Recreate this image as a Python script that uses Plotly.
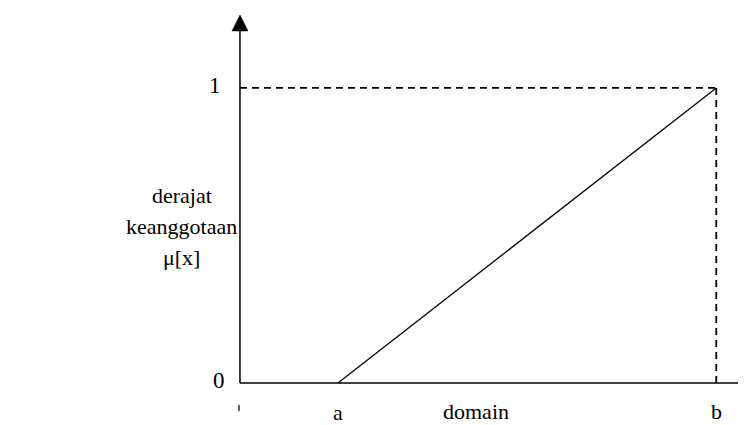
import plotly.graph_objects as go

# ---- data ----
point_names = ["a", "b"]
point_x = [1.0, 4.86]          # positions of a and b on the domain axis
mu_x = [1.0, 4.86]             # membership line: from a ...
mu_y = [0.0, 1.0]              # ... rising linearly to 1 at b
y_tick_vals = [0, 1]
y_tick_text = ["0", "1"]
x_title = "domain"
y_title_lines = ["derajat", "keanggotaan", "μ[x]"]

# axis extents (data units)
X_MIN, X_MAX = -2.367, 5.245
Y_MIN, Y_MAX = -0.1695, 1.271
X_AXIS_END = 5.18
Y_AXIS_END = 1.193
ARROW_LEN_Y = 0.054
ARROW_HALF_Y = 0.0816
ARROW_LEN_X = 0.17
ARROW_HALF_X = 0.0237

FONT = "Liberation Serif, Times New Roman, serif"
FS = 22
BLACK = "#000000"

fig = go.Figure()

# membership function line
fig.add_trace(go.Scatter(x=mu_x, y=mu_y, mode="lines",
                         line=dict(color=BLACK, width=1.3),
                         hoverinfo="skip", showlegend=False))

# arrow heads (filled triangles)
fig.add_trace(go.Scatter(
    x=[-ARROW_HALF_Y, ARROW_HALF_Y, 0, -ARROW_HALF_Y],
    y=[Y_AXIS_END, Y_AXIS_END, Y_AXIS_END + ARROW_LEN_Y, Y_AXIS_END],
    mode="lines", fill="toself", fillcolor=BLACK,
    line=dict(color=BLACK, width=0.5), hoverinfo="skip", showlegend=False))
fig.add_trace(go.Scatter(
    x=[X_AXIS_END, X_AXIS_END, X_AXIS_END + ARROW_LEN_X, X_AXIS_END],
    y=[-ARROW_HALF_X, ARROW_HALF_X, 0, -ARROW_HALF_X],
    mode="lines", fill="toself", fillcolor=BLACK,
    line=dict(color=BLACK, width=0.5), hoverinfo="skip", showlegend=False))

shapes = [
    # y axis
    dict(type="line", x0=0, x1=0, y0=0, y1=Y_AXIS_END,
         line=dict(color=BLACK, width=1.5)),
    # x axis
    dict(type="line", x0=0, x1=X_AXIS_END, y0=0, y1=0,
         line=dict(color=BLACK, width=1.5)),
    # dashed guide lines at mu = 1 and x = b
    dict(type="line", x0=0, x1=point_x[1], y0=mu_y[1], y1=mu_y[1],
         line=dict(color=BLACK, width=1.8, dash="7px,5px")),
    dict(type="line", x0=point_x[1], x1=point_x[1], y0=0, y1=mu_y[1],
         line=dict(color=BLACK, width=1.8, dash="7px,5px")),
    # small remnant tick below the origin
    dict(type="line", x0=-0.01, x1=-0.01, y0=-0.075, y1=-0.095,
         line=dict(color=BLACK, width=1.2)),
]

annotations = []
# y tick labels
tick_x = [-0.214, -0.255]
for tv, tt, tx in zip(y_tick_vals, y_tick_text, tick_x):
    annotations.append(dict(x=tx, y=tv + 0.01, text=tt, showarrow=False,
                            xanchor="center", yanchor="middle",
                            font=dict(family=FONT, size=FS + 1, color=BLACK)))
# x point labels
for name, px in zip(point_names, point_x):
    annotations.append(dict(x=px, y=-0.101 if name == "a" else -0.096,
                            text=name, showarrow=False,
                            xanchor="center", yanchor="middle", borderpad=0,
                            font=dict(family=FONT, size=FS, color=BLACK)))
# axis titles
annotations.append(dict(x=2.41, y=-0.096, text=x_title, showarrow=False,
                        xanchor="center", yanchor="middle", borderpad=0,
                        font=dict(family=FONT, size=FS, color=BLACK)))
title_y = [0.634, 0.529, 0.424]
for line_text, ty in zip(y_title_lines, title_y):
    annotations.append(dict(x=-0.592, y=ty, text=line_text, showarrow=False,
                            xanchor="center", yanchor="middle",
                            font=dict(family=FONT, size=FS, color=BLACK)))

fig.update_layout(
    width=746, height=425,
    margin=dict(l=0, r=0, t=0, b=0),
    paper_bgcolor="white", plot_bgcolor="white",
    xaxis=dict(range=[X_MIN, X_MAX], visible=False, fixedrange=True),
    yaxis=dict(range=[Y_MIN, Y_MAX], visible=False, fixedrange=True),
    shapes=shapes, annotations=annotations, showlegend=False,
)

fig.write_html("out.html")
